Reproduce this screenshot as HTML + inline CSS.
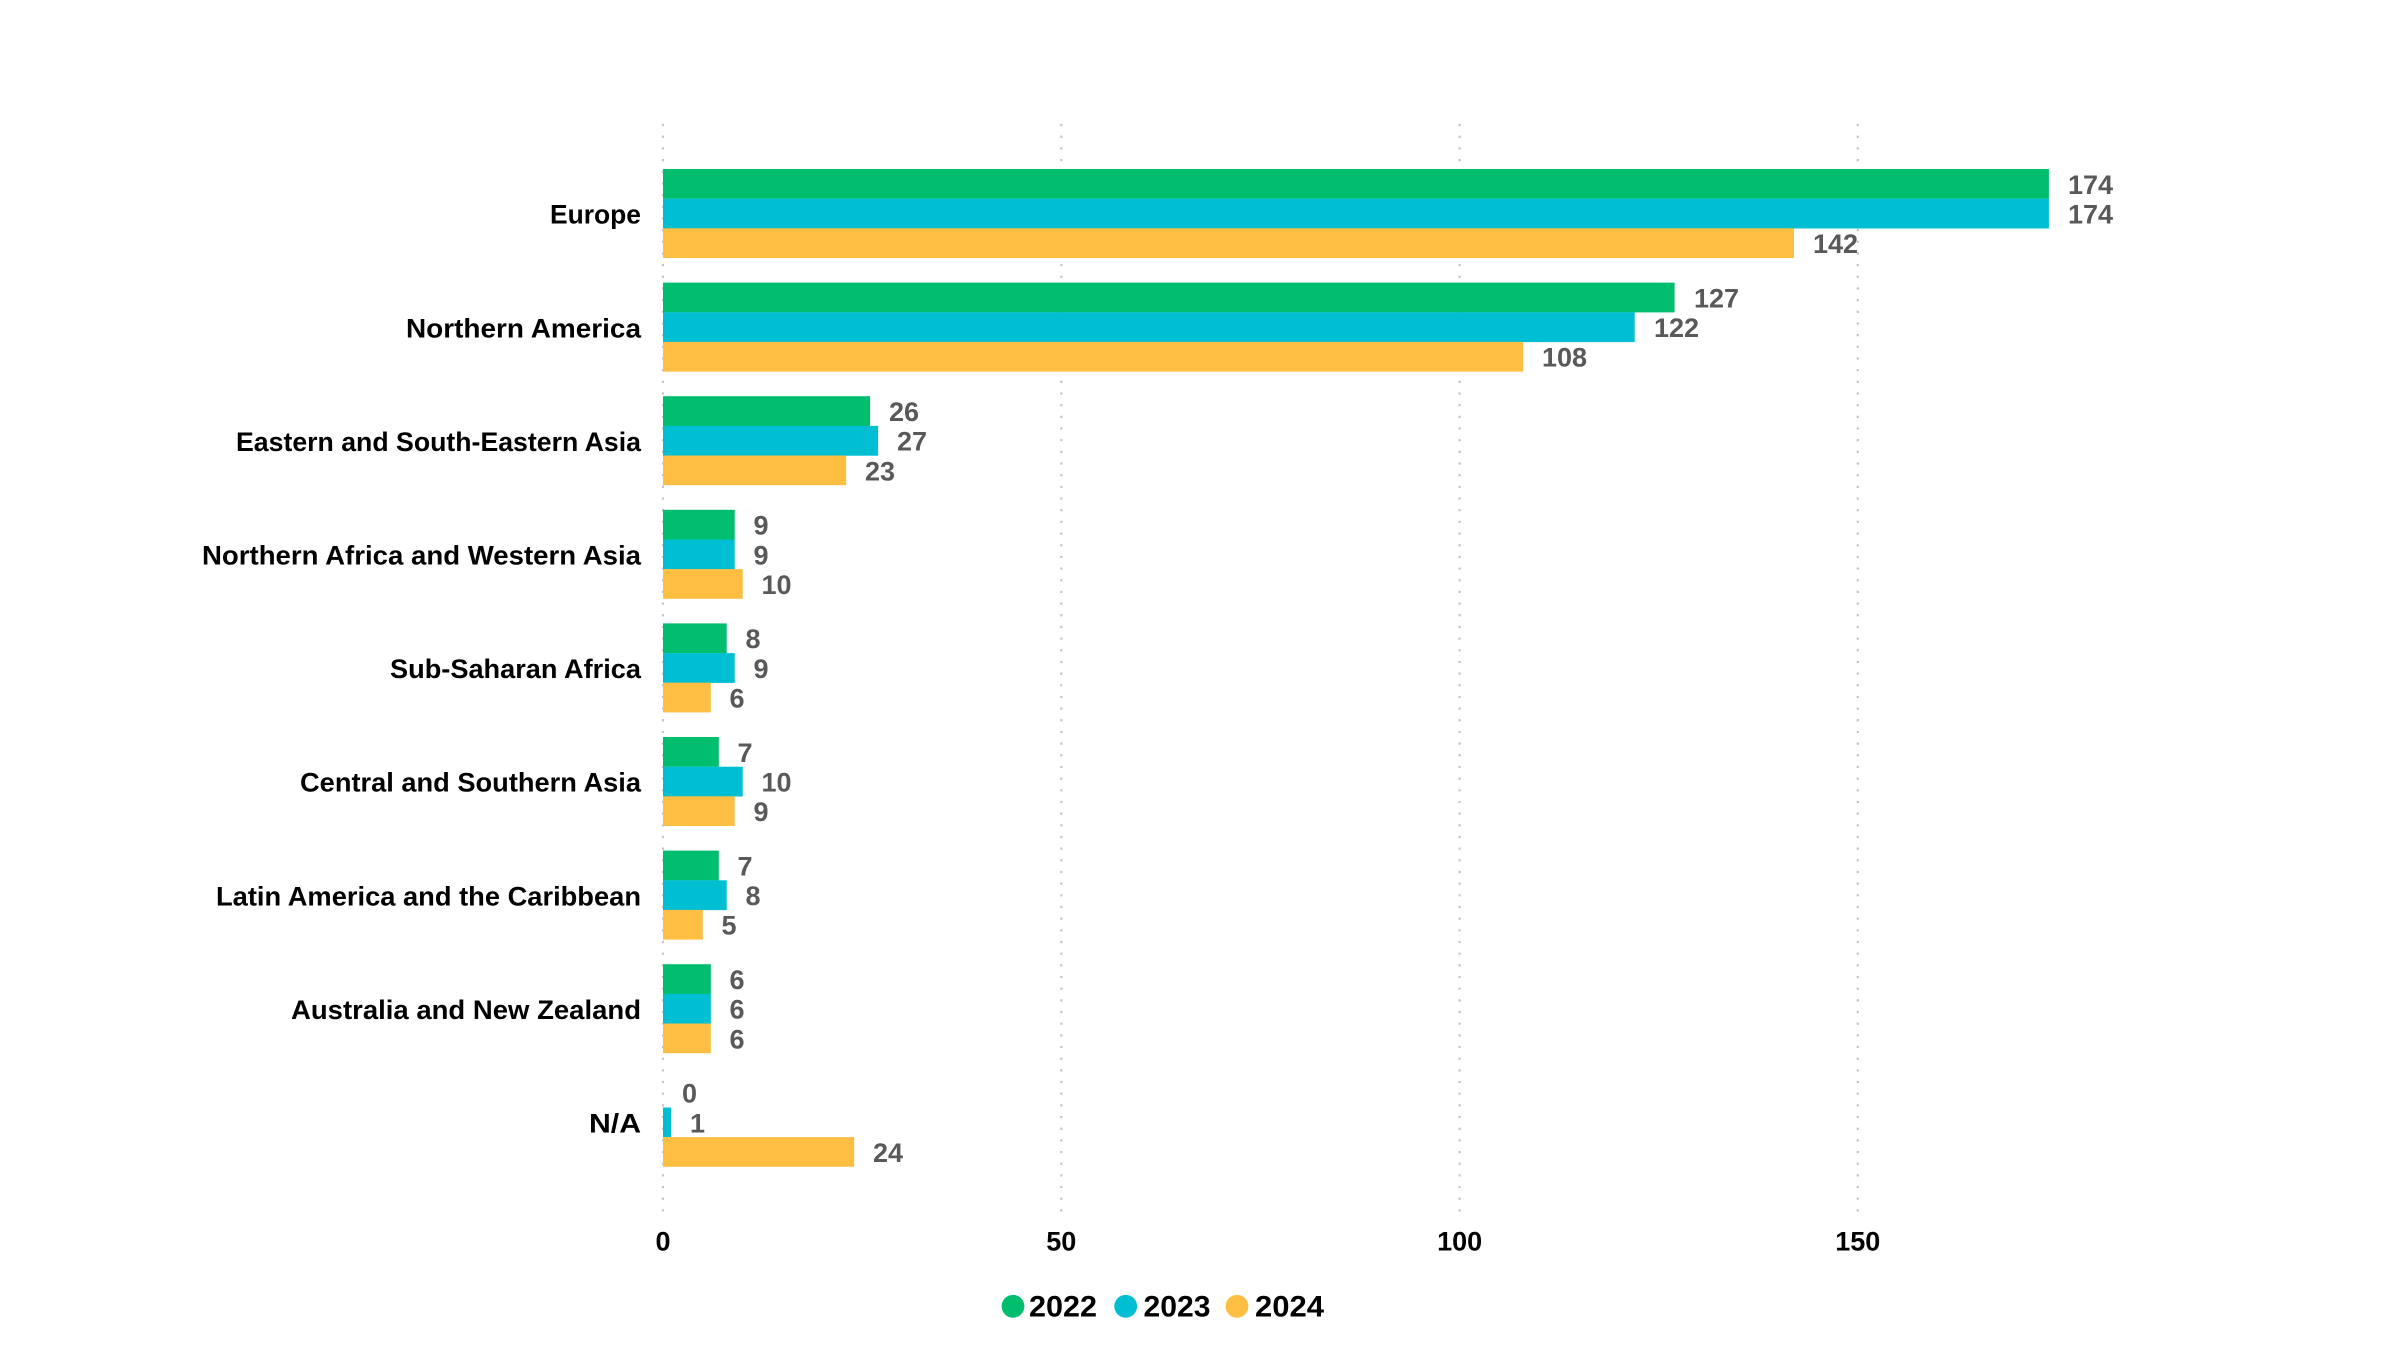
<!DOCTYPE html>
<html>
<head>
<meta charset="utf-8">
<style>
html,body{margin:0;padding:0;background:#fff;}
svg{display:block;}
text{font-family:"Liberation Sans",Arial,sans-serif;font-weight:bold;}
</style>
</head>
<body>
<svg width="2400" height="1350" viewBox="0 0 2400 1350" xmlns="http://www.w3.org/2000/svg">
<rect width="2400" height="1350" fill="#ffffff"/>
<!-- gridlines -->
<g stroke="#c4c4c4" stroke-width="2.2" stroke-dasharray="2.2 9.47">
<line x1="663" y1="124" x2="663" y2="1217"/>
<line x1="1061.3" y1="124" x2="1061.3" y2="1217"/>
<line x1="1459.6" y1="124" x2="1459.6" y2="1217"/>
<line x1="1857.8" y1="124" x2="1857.8" y2="1217"/>
</g>
<!-- bars -->
<g id="bars">
<rect x="663" y="169" width="1385.9" height="29.8" fill="#00BE6E"/>
<rect x="663" y="198.7" width="1385.9" height="29.8" fill="#00BFD3"/>
<rect x="663" y="228.3" width="1131" height="29.7" fill="#FDBE41"/>
<rect x="663" y="282.6" width="1011.6" height="29.8" fill="#00BE6E"/>
<rect x="663" y="312.3" width="971.7" height="29.8" fill="#00BFD3"/>
<rect x="663" y="341.9" width="860.2" height="29.7" fill="#FDBE41"/>
<rect x="663" y="396.2" width="207.1" height="29.8" fill="#00BE6E"/>
<rect x="663" y="425.9" width="215.1" height="29.8" fill="#00BFD3"/>
<rect x="663" y="455.5" width="183.2" height="29.7" fill="#FDBE41"/>
<rect x="663" y="509.8" width="71.7" height="29.8" fill="#00BE6E"/>
<rect x="663" y="539.5" width="71.7" height="29.8" fill="#00BFD3"/>
<rect x="663" y="569.1" width="79.7" height="29.7" fill="#FDBE41"/>
<rect x="663" y="623.4" width="63.7" height="29.8" fill="#00BE6E"/>
<rect x="663" y="653.1" width="71.7" height="29.8" fill="#00BFD3"/>
<rect x="663" y="682.7" width="47.8" height="29.7" fill="#FDBE41"/>
<rect x="663" y="737" width="55.8" height="29.8" fill="#00BE6E"/>
<rect x="663" y="766.7" width="79.7" height="29.8" fill="#00BFD3"/>
<rect x="663" y="796.3" width="71.7" height="29.7" fill="#FDBE41"/>
<rect x="663" y="850.6" width="55.8" height="29.8" fill="#00BE6E"/>
<rect x="663" y="880.3" width="63.7" height="29.8" fill="#00BFD3"/>
<rect x="663" y="909.9" width="39.8" height="29.7" fill="#FDBE41"/>
<rect x="663" y="964.2" width="47.8" height="29.8" fill="#00BE6E"/>
<rect x="663" y="993.9" width="47.8" height="29.8" fill="#00BFD3"/>
<rect x="663" y="1023.5" width="47.8" height="29.7" fill="#FDBE41"/>
<rect x="663" y="1107.5" width="8" height="29.8" fill="#00BFD3"/>
<rect x="663" y="1137.1" width="191.2" height="29.7" fill="#FDBE41"/>
</g>
<!-- value labels -->
<g fill="#595959" font-size="27">
<text x="2068" y="193.8">174</text>
<text x="2068" y="223.5">174</text>
<text x="1813" y="253.1">142</text>
<text x="1694" y="307.4">127</text>
<text x="1654" y="337.1">122</text>
<text x="1542" y="366.7">108</text>
<text x="889" y="421">26</text>
<text x="897" y="450.7">27</text>
<text x="865" y="480.3">23</text>
<text x="753.5" y="534.6">9</text>
<text x="753.5" y="564.3">9</text>
<text x="761.5" y="593.9">10</text>
<text x="745.5" y="648.2">8</text>
<text x="753.5" y="677.9">9</text>
<text x="729.5" y="707.5">6</text>
<text x="737.5" y="761.8">7</text>
<text x="761.5" y="791.5">10</text>
<text x="753.5" y="821.1">9</text>
<text x="737.5" y="875.4">7</text>
<text x="745.5" y="905.1">8</text>
<text x="721.5" y="934.7">5</text>
<text x="729.5" y="989">6</text>
<text x="729.5" y="1018.7">6</text>
<text x="729.5" y="1048.3">6</text>
<text x="682" y="1102.6">0</text>
<text x="690" y="1132.3">1</text>
<text x="873" y="1161.9">24</text>
</g>
<!-- category labels -->
<g fill="#000" font-size="27" text-anchor="end">
<text x="641" y="223.7" textLength="91" lengthAdjust="spacingAndGlyphs">Europe</text>
<text x="641" y="337.3" textLength="235" lengthAdjust="spacingAndGlyphs">Northern America</text>
<text x="641" y="450.9" textLength="405" lengthAdjust="spacingAndGlyphs">Eastern and South-Eastern Asia</text>
<text x="641" y="564.5" textLength="439" lengthAdjust="spacingAndGlyphs">Northern Africa and Western Asia</text>
<text x="641" y="678.1" textLength="251" lengthAdjust="spacingAndGlyphs">Sub-Saharan Africa</text>
<text x="641" y="791.7" textLength="341" lengthAdjust="spacingAndGlyphs">Central and Southern Asia</text>
<text x="641" y="905.3" textLength="425" lengthAdjust="spacingAndGlyphs">Latin America and the Caribbean</text>
<text x="641" y="1018.9" textLength="350" lengthAdjust="spacingAndGlyphs">Australia and New Zealand</text>
<text x="641" y="1132.5" textLength="52" lengthAdjust="spacingAndGlyphs">N/A</text>
</g>
<!-- tick labels -->
<g fill="#000" font-size="27" text-anchor="middle">
<text x="663" y="1250.7">0</text>
<text x="1061.3" y="1250.7">50</text>
<text x="1459.6" y="1250.7">100</text>
<text x="1857.8" y="1250.7">150</text>
</g>
<!-- legend -->
<circle cx="1013" cy="1306.3" r="11.4" fill="#00BE6E"/>
<circle cx="1125.7" cy="1306.3" r="11.4" fill="#00BFD3"/>
<circle cx="1237" cy="1306.3" r="11.4" fill="#FDBE41"/>
<g fill="#000" font-size="30">
<text x="1029" y="1316.7" textLength="68" lengthAdjust="spacingAndGlyphs">2022</text>
<text x="1143.5" y="1316.7" textLength="67" lengthAdjust="spacingAndGlyphs">2023</text>
<text x="1255" y="1316.7" textLength="69" lengthAdjust="spacingAndGlyphs">2024</text>
</g>
</svg>
</body>
</html>
